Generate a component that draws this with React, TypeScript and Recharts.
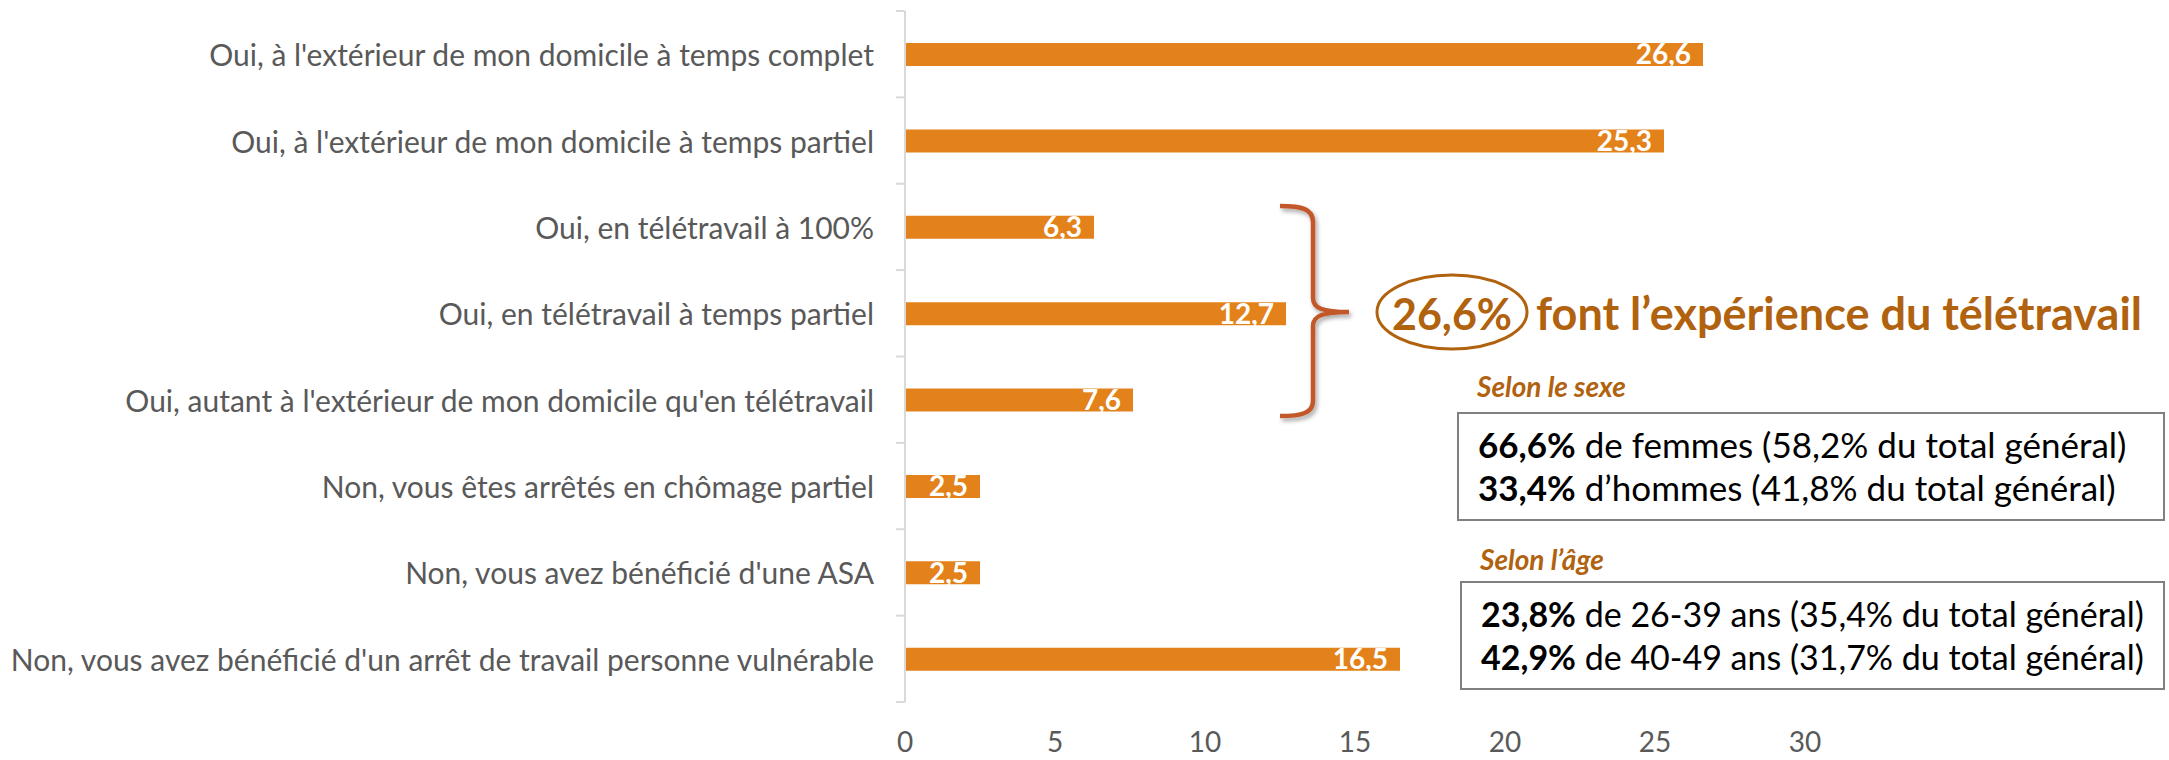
import { BarChart, Bar, XAxis, YAxis, LabelList } from "recharts";

const categories = [
  "Oui, à l'extérieur de mon domicile à temps complet",
  "Oui, à l'extérieur de mon domicile à temps partiel",
  "Oui, en télétravail à 100% ",
  "Oui, en télétravail à temps partiel",
  "Oui, autant à l'extérieur de mon domicile qu'en télétravail",
  "Non, vous êtes arrêtés en chômage partiel",
  "Non, vous avez bénéficié d'une ASA",
  "Non, vous avez bénéficié d'un arrêt de travail personne vulnérable",
];
const values = [26.6, 25.3, 6.3, 12.7, 7.6, 2.5, 2.5, 16.5];
const xTicks = [0, 5, 10, 15, 20, 25, 30];

const sexLines = [
  ["66,6%", " de femmes (58,2% du total général)"],
  ["33,4%", " d’hommes (41,8% du total général)"],
];
const ageLines = [
  ["23,8%", " de 26-39 ans (35,4% du total général)"],
  ["42,9%", " de 40-49 ans (31,7% du total général)"],
];

const data = categories.map((name, i) => ({ name, value: values[i] }));

const FONT = "Lato, 'Open Sans', sans-serif";
const ORANGE = "#E3821A";
const BROWN = "#B0620F";
const TOP = 11;
const BOTTOM = 702;
const BAND = (BOTTOM - TOP) / categories.length;

function CatTick(props: any) {
  const { x, y, payload, index } = props;
  const axisX = 905;
  return (
    <g>
      <line x1={axisX - 9} x2={axisX} y1={y - BAND / 2} y2={y - BAND / 2} stroke="#D9D9D9" strokeWidth={2} />
      {index === categories.length - 1 && (
        <line x1={axisX - 9} x2={axisX} y1={y + BAND / 2} y2={y + BAND / 2} stroke="#D9D9D9" strokeWidth={2} />
      )}
      <text x={x} y={y} textAnchor="end" dominantBaseline="central" fill="#595959" fontSize={30} fontFamily={FONT}>
        {payload.value}
      </text>
    </g>
  );
}

function Box({ top, left, lines, size }: { top: number; left: number; lines: string[][]; size: number }) {
  return (
    <div
      style={{
        position: "absolute",
        top,
        left,
        width: 2165 - left,
        height: 109,
        boxSizing: "border-box",
        border: "2px solid #808080",
        padding: "9px 0 0 19px",
        fontFamily: FONT,
        fontSize: size,
        lineHeight: "43px",
        color: "#000",
        whiteSpace: "nowrap",
      }}
    >
      {lines.map((l, i) => (
        <div key={i}>
          <b>{l[0]}</b>
          {l[1]}
        </div>
      ))}
    </div>
  );
}

export default function App() {
  return (
    <div style={{ position: "absolute", left: 0, top: 0, width: 2169, height: 760, background: "#fff" }}>
      <BarChart
        width={2169}
        height={760}
        data={data}
        layout="vertical"
        margin={{ top: TOP, right: 364, left: 0, bottom: 0 }}
      >
        <XAxis
          type="number"
          domain={[0, 30]}
          ticks={xTicks}
          axisLine={false}
          tickLine={false}
          height={58}
          tickMargin={24}
          tick={{ fill: "#595959", fontSize: 28, fontFamily: FONT }}
        />
        <YAxis
          type="category"
          dataKey="name"
          width={905}
          axisLine={{ stroke: "#D9D9D9", strokeWidth: 2 }}
          tickLine={false}
          tickSize={8}
          tickMargin={23}
          tick={<CatTick />}
          interval={0}
        />
        <Bar dataKey="value" fill={ORANGE} barSize={23} isAnimationActive={false}>
          <LabelList
            dataKey="value"
            position="insideRight"
            offset={12}
            formatter={(v: any) => String(v).replace(".", ",")}
            style={{ fill: "#fff", fontSize: 28, fontWeight: 700, fontFamily: FONT }}
          />
        </Bar>
      </BarChart>

      <svg width={2169} height={760} style={{ position: "absolute", left: 0, top: 0, pointerEvents: "none" }}>
        <defs>
          <filter id="sh" x="-50%" y="-20%" width="200%" height="140%">
            <feDropShadow dx="2" dy="3" stdDeviation="2" floodColor="#000" floodOpacity="0.35" />
          </filter>
        </defs>
        <path
          d="M1280 206 C1302 206 1313 209 1313 222 L1313 298 C1313 308 1322 312 1349 312 C1322 312 1313 316 1313 326 L1313 401 C1313 413 1302 416 1280 416"
          fill="none"
          stroke="#C2582B"
          strokeWidth={4.5}
          filter="url(#sh)"
        />
        <ellipse cx={1452} cy={312} rx={75} ry={37} fill="none" stroke={BROWN} strokeWidth={3} />
        <text x={1452} y={313} textAnchor="middle" dominantBaseline="central" fill={BROWN} fontSize={43} fontWeight={700} fontFamily={FONT}>
          26,6%
        </text>
        <text x={1536} y={313} dominantBaseline="central" fill={BROWN} fontSize={45} fontWeight={700} fontFamily={FONT}>
          font l’expérience du télétravail
        </text>
        <text x={1477} y={386} dominantBaseline="central" fill={BROWN} fontSize={28} fontWeight={700} fontStyle="italic" fontFamily={FONT}>
          Selon le sexe
        </text>
        <text x={1480} y={559} dominantBaseline="central" fill={BROWN} fontSize={28} fontWeight={700} fontStyle="italic" fontFamily={FONT}>
          Selon l’âge
        </text>
      </svg>

      <Box top={412} left={1457} lines={sexLines} size={35} />
      <Box top={581} left={1460} lines={ageLines} size={34} />
    </div>
  );
}
